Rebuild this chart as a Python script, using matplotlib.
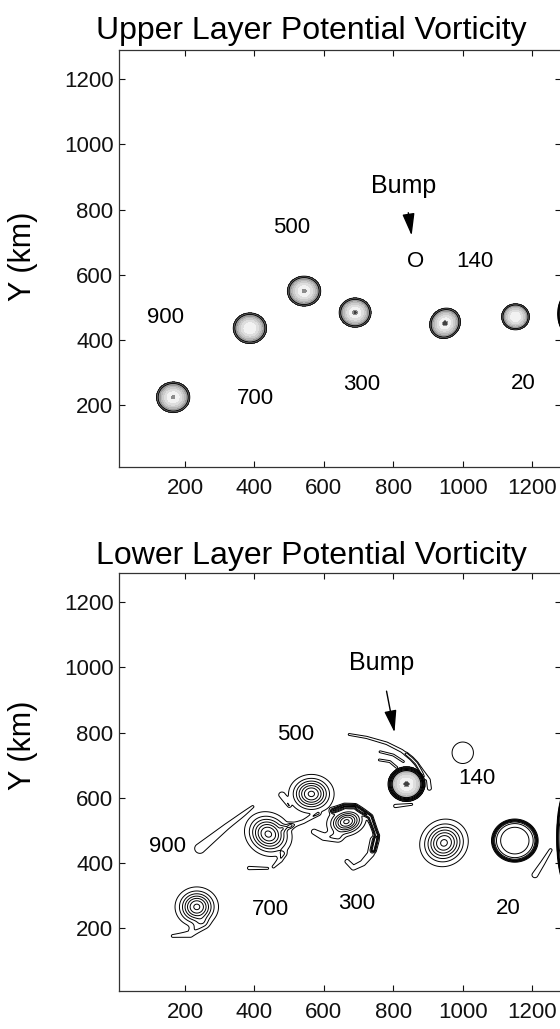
import matplotlib
matplotlib.use('Agg')
import matplotlib.pyplot as plt
import numpy as np

plt.rcParams['font.family'] = ['Liberation Sans', 'DejaVu Sans']

# ---------------- upper layer ----------------
# shaded vortices: centre (km), outer radii (km), tilt (deg), central speck
up_x    = [166, 387, 543, 690, 949, 1152]
up_y    = [224, 436, 550, 484, 451, 471]
up_rx   = [48, 48, 48, 46, 43, 40]
up_ry   = [47, 47, 46, 45, 48, 40]
up_ang  = [0, 0, 0, 0, -30, 45]
up_core = [0.15, 0.0, 0.2, 0.3, 0.45, 0.0]
# vortex cut by the right edge (x, y, rx, ry)
up_edge = [1300, 480, 25, 55]

up_lab   = ['900', '700', '500', '300', '140', '20', 'O']
up_lab_x = [144, 402, 507, 709, 1035, 1173, 865]
up_lab_y = [470, 221, 745, 262, 640, 267, 642]
up_bump_xy   = (831, 873)
up_bump_tail = (842, 799)
up_bump_head = (854, 712)

# ---------------- lower layer ----------------
# smooth vortices drawn as plain contours: x, y, sx, sy, tilt, amplitude
lo_x   = [234, 440, 564, 665, 946, 1000, 504]
lo_y   = [266, 489, 612, 527, 462, 738, 515]
lo_sx  = [43, 50, 45, 40, 51, 43, 8]
lo_sy  = [42, 44, 41, 30, 47, 46, 8]
lo_ang = [0, -45, 0, 20, 60, 0, 0]
lo_amp = [1.0, 1.0, 1.0, 1.0, 1.0, 0.2, 0.18]
# steep-edged (ring) vortices: x, y, rx, ry
lo_ring_x  = [1150, 1300]
lo_ring_y  = [469, 478]
lo_ring_rx = [64, 28]
lo_ring_ry = [63, 140]
# shaded vortex (the one hit by the bump)
lo_sh_x, lo_sh_y, lo_sh_r, lo_sh_core = [838], [642], [53], [0.5]

# filaments: polyline points (km), half width start/end (km), amplitude
lo_fil = [
    ([(250, 215), (215, 182), (165, 177)], 18, 6, 0.2),
    ([(243, 445), (320, 512), (395, 573)], 21, 4, 0.2),
    ([(482, 428), (474, 409), (455, 389)], 10, 5, 0.2),
    ([(385, 385), (438, 384)], 7, 4, 0.2),
    ([(483, 507), (507, 515), (541, 527), (584, 552)], 9, 6, 0.2),
    ([(478, 609), (500, 576)], 10, 5, 0.2),
    ([(627, 560), (660, 574), (690, 573), (733, 542), (752, 485), (742, 440)], 7, 6, 0.6),
    ([(745, 470), (735, 428), (712, 400), (685, 386), (667, 405)], 15, 8, 0.22),
    ([(572, 496), (600, 480), (640, 478)], 10, 16, 0.22),
    ([(673, 794), (723, 785), (781, 767), (824, 744), (853, 721),
      (877, 690), (901, 655), (904, 629)], 4, 8, 0.2),
    ([(762, 741), (800, 731), (829, 711)], 4, 4, 0.2),
    ([(760, 716), (790, 711), (810, 693)], 4, 4, 0.2),
    ([(838, 734), (867, 706), (886, 665), (888, 634)], 4, 4, 0.2),
    ([(806, 575), (853, 580)], 7, 4, 0.2),
    ([(1208, 364), (1230, 400), (1253, 440)], 12, 6, 0.2),
]

lo_lab   = ['900', '700', '500', '300', '140', '20']
lo_lab_x = [149, 445, 519, 695, 1040, 1131]
lo_lab_y = [450, 259, 795, 275, 658, 262]
lo_bump_xy   = (765, 1013)
lo_bump_tail = (779, 935)
lo_bump_head = (805, 792)

xticks = [200, 400, 600, 800, 1000, 1200]
yticks = [200, 400, 600, 800, 1000, 1200]

# ---------------- fields ----------------
gx = np.arange(10, 1285, 2.0)
gy = np.arange(10, 1291, 2.0)
X, Y = np.meshgrid(gx, gy)


def vortex(x0, y0, rx, ry, ang, p):
  a = np.deg2rad(ang)
  dx = X - x0
  dy = Y - y0
  u = (dx*np.cos(a) + dy*np.sin(a))/rx
  v = (-dx*np.sin(a) + dy*np.cos(a))/ry
  return np.exp(-(u*u + v*v)**(p/2.0))


def filament(pts, w0, w1, amp):
  pts = np.asarray(pts, float)
  seg = np.diff(pts, axis=0)
  L = np.hypot(seg[:, 0], seg[:, 1])
  cum = np.concatenate([[0], np.cumsum(L)])
  best = np.full(X.shape, np.inf)
  tpos = np.zeros(X.shape)
  for i in range(len(seg)):
    px, py = pts[i]
    dx, dy = seg[i]
    t = np.clip(((X-px)*dx + (Y-py)*dy)/L[i]**2, 0, 1)
    d = np.hypot(X-px-t*dx, Y-py-t*dy)
    m = d < best
    best[m] = d[m]
    tpos[m] = (cum[i] + t[m]*L[i])/cum[-1]
  w = w0 + (w1-w0)*tpos
  return amp*np.exp(-(best/w)**2)


def shaded(xs, ys, rxs, rys, angs, cores):
  f = np.zeros(X.shape)
  for x0, y0, rx, ry, a, c in zip(xs, ys, rxs, rys, angs, cores):
    f += vortex(x0, y0, rx/1.34, ry/1.34, a, 4)
    f += c*vortex(x0, y0, 5, 5, 0, 2)
  return f


up_shade = shaded(up_x, up_y, up_rx, up_ry, up_ang, up_core)
up_line = vortex(up_edge[0], up_edge[1], up_edge[2], up_edge[3], 0, 16)

lo_shade = shaded(lo_sh_x, lo_sh_y, lo_sh_r, lo_sh_r, [0], lo_sh_core)
lo_line = np.zeros(X.shape)
for x0, y0, sx, sy, a, amp in zip(lo_x, lo_y, lo_sx, lo_sy, lo_ang, lo_amp):
  lo_line += amp*vortex(x0, y0, sx, sy, a, 2)
for x0, y0, rx, ry in zip(lo_ring_x, lo_ring_y, lo_ring_rx, lo_ring_ry):
  lo_line += vortex(x0, y0, rx, ry, 0, 16)
lo_line += 0.15*vortex(lo_ring_x[0], lo_ring_y[0], 40, 40, 0, 4)
for pts, w0, w1, amp in lo_fil:
  lo_line += filament(pts, w0, w1, amp)

shade_lev = [0.04, 0.2, 0.4, 0.6, 0.8, 0.95, 1.05, 1.2, 5]
shade_col = ['0.45', '0.6', '0.72', '0.8', '0.87', '0.95', '0.55', '0.25']
line_lev = [0.12, 0.26, 0.40, 0.54, 0.68, 0.82, 0.96, 1.05]

# ---------------- figure ----------------
fig = plt.figure(figsize=(5.6, 10.29), dpi=100)
ax_up = fig.add_axes([119/560, 1-467/1029, 442/560, 417/1029])
ax_lo = fig.add_axes([119/560, 1-990.5/1029, 442/560, 418/1029])

for ax in (ax_up, ax_lo):
  ax.set_xlim(10, 1283)
  ax.set_ylim(10, 1290)
  ax.set_xticks(xticks)
  ax.set_yticks(yticks)
  ax.tick_params(direction='in', top=True, right=True, length=4.5, width=0.8,
                 labelsize=16, colors='#111111')
  ax.tick_params(axis='x', pad=8)
  ax.tick_params(axis='y', pad=4)
  for s in ax.spines.values():
    s.set_linewidth(0.9)
    s.set_color('#333333')

# upper panel
ax_up.contourf(X, Y, up_shade, levels=shade_lev, colors=shade_col)
ax_up.contour(X, Y, up_shade, levels=[0.04, 0.12], colors='k', linewidths=0.6)
ax_up.contour(X, Y, up_line, levels=line_lev, colors='k', linewidths=0.7)
for t, x, y in zip(up_lab, up_lab_x, up_lab_y):
  ax_up.text(x, y, t, fontsize=16, ha='center', va='center')
ax_up.text(up_bump_xy[0], up_bump_xy[1], 'Bump', fontsize=18, ha='center', va='center')
ax_up.annotate('', xy=up_bump_head, xytext=up_bump_tail,
               arrowprops=dict(arrowstyle='-|>,head_length=0.9,head_width=0.25',
                               color='k', lw=1, mutation_scale=15))

# lower panel
ax_lo.contourf(X, Y, lo_shade, levels=shade_lev, colors=shade_col)
ax_lo.contour(X, Y, lo_shade, levels=[0.04, 0.08, 0.13, 0.2, 0.3], colors='k', linewidths=0.8)
ax_lo.contour(X, Y, lo_line, levels=line_lev, colors='k', linewidths=0.7)
for t, x, y in zip(lo_lab, lo_lab_x, lo_lab_y):
  ax_lo.text(x, y, t, fontsize=16, ha='center', va='center')
ax_lo.text(lo_bump_xy[0], lo_bump_xy[1], 'Bump', fontsize=18, ha='center', va='center')
ax_lo.annotate('', xy=lo_bump_head, xytext=lo_bump_tail,
               arrowprops=dict(arrowstyle='-|>,head_length=0.9,head_width=0.25',
                               color='k', lw=1, mutation_scale=15))

fig.text(311/560, 1-39/1029, 'Upper Layer Potential Vorticity', fontsize=23,
         ha='center', va='baseline')
fig.text(311/560, 1-564/1029, 'Lower Layer Potential Vorticity', fontsize=23,
         ha='center', va='baseline')
fig.text(23/560, 1-256/1029, 'Y (km)', fontsize=22, rotation=90,
         ha='center', va='center')
fig.text(23/560, 1-745/1029, 'Y (km)', fontsize=22, rotation=90,
         ha='center', va='center')

fig.savefig('out.png', dpi=100)
plt.close(fig)
